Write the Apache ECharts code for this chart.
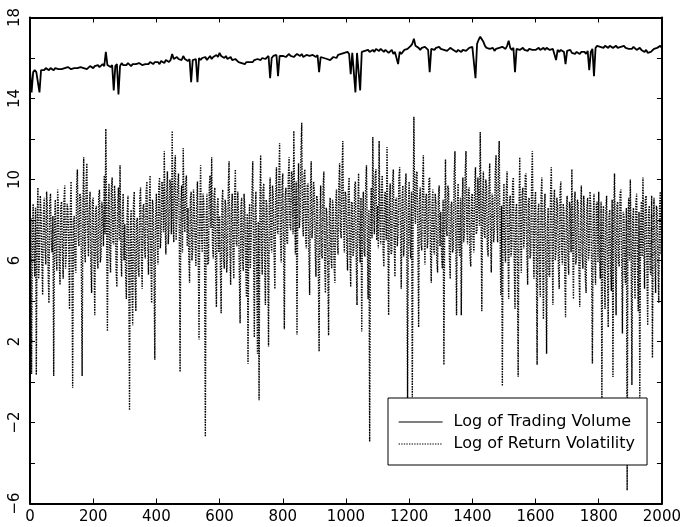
<!DOCTYPE html>
<html>
<head>
<meta charset="utf-8">
<script src="https://cdn.jsdelivr.net/npm/echarts@6/dist/echarts.min.js"></script>
<style>html,body{margin:0;padding:0;background:#fff}#c{width:684px;height:527px}</style>
</head>
<body>
<div id="c"></div>
<script>
// x step between observations of each series (observation index scale)
var volumeStep = 5;
var volatilityStep = 2.5;
var xTicks = [0, 200, 400, 600, 800, 1000, 1200, 1400, 1600, 1800, 2000];
var yLabels = [18, 14, 10, 6, 2, -2, -6];
var seriesNames = ['Log of Trading Volume', 'Log of Return Volatility'];

var volumeLog = [
15.4,14.3,15.3,15.4,15.3,15.35,14.3,15.4,15.45,15.4,15.5,15.45,15.4,15.5,15.45,15.4,15.5,15.55,15.45,15.5,
15.45,15.4,15.5,15.45,15.55,15.5,15.45,15.4,15.5,15.55,15.5,15.45,15.55,15.6,15.5,15.55,15.45,15.5,15.6,15.55,
15.5,15.6,15.55,15.65,15.55,15.6,15.7,15.6,16.3,15.65,15.6,15.55,15.65,14.4,15.6,15.7,14.2,15.6,15.75,15.65,
15.7,15.65,15.75,15.7,15.6,15.7,15.75,15.7,15.65,15.75,15.7,15.65,15.6,15.7,15.75,15.7,15.8,15.75,15.7,15.8,
15.75,15.8,15.7,15.85,15.8,15.75,15.9,15.85,15.8,15.9,16.2,15.95,15.9,16.05,15.95,16.0,15.9,16.1,15.95,15.9,
15.85,15.95,14.8,15.9,15.85,15.95,14.8,16.0,15.9,16.0,15.95,16.05,15.9,16.0,16.1,15.95,16.05,16.0,16.15,16.05,
16.25,16.1,16.05,16.0,16.1,15.95,16.0,16.05,15.9,15.85,15.95,15.9,15.8,15.85,15.75,15.8,15.7,15.8,15.75,15.8,
15.85,15.8,15.9,15.85,15.95,16.0,15.9,16.0,16.05,15.95,16.0,16.1,15.0,16.0,16.1,16.05,16.15,15.1,16.1,16.05,
16.1,16.15,16.05,16.1,16.2,16.1,16.15,16.05,16.1,16.2,16.15,16.1,16.2,16.05,16.1,16.15,16.2,16.1,16.05,16.15,
16.1,16.05,16.15,15.3,16.05,16.1,16.0,16.05,15.95,16.0,15.9,15.95,16.05,16.1,16.0,16.15,16.1,16.2,16.15,16.25,
16.2,16.3,16.2,15.2,16.25,16.3,14.3,16.25,16.3,14.4,16.3,16.25,16.35,16.3,16.4,16.3,16.35,16.4,16.3,16.45,
16.4,16.35,16.45,16.4,16.3,16.4,16.35,16.25,16.3,16.4,16.2,16.3,16.35,15.7,16.3,16.2,16.3,16.4,16.35,16.45,
16.5,16.6,16.7,16.95,16.6,16.55,16.5,16.4,16.5,16.45,16.55,16.5,16.4,15.3,16.45,16.5,16.4,16.5,16.45,16.55,
16.45,16.5,16.4,16.45,16.35,16.4,16.5,16.45,16.4,16.35,16.3,16.4,16.35,16.3,16.4,16.45,16.35,16.4,16.5,16.45,
16.55,16.6,15.0,16.7,16.9,17.05,17.1,16.8,16.6,16.5,16.55,16.45,16.4,16.5,16.35,16.45,16.4,16.5,16.45,16.55,
16.5,16.45,16.6,16.85,16.5,16.4,16.5,15.3,16.45,16.5,16.4,16.45,16.5,16.4,16.45,16.35,16.45,16.5,16.4,16.45,
16.4,16.45,16.5,16.4,16.45,16.5,16.4,16.5,16.45,16.4,16.35,16.45,16.4,15.9,16.4,16.3,16.4,16.35,16.3,15.7,
16.35,16.3,16.4,16.25,16.3,16.2,16.3,16.25,16.2,16.3,16.25,16.3,16.2,16.35,15.4,16.3,16.45,15.1,16.5,16.6,
16.65,16.55,16.6,16.5,16.6,16.55,16.5,16.6,16.55,16.5,16.55,16.6,16.5,16.45,16.55,16.5,16.6,16.5,16.55,16.45,
16.5,16.45,16.55,16.5,16.4,16.45,16.5,16.4,16.35,16.3,16.4,16.25,16.2,16.3,16.35,16.45,16.4,16.5,16.55,16.6,
16.5
];

var volatilityLog = [
6.5,8.1,0.4,7.2,8.8,6.3,5.2,8.6,0.35,7.7,9.6,5.1,6.1,9.2,8.4,5.9,4.3,8.3,9.1,6.6,5.8,9.4,8.7,5.3,3.9,8.9,9.3,6.8,6.4,8.2,0.3,7.5,9.0,6.2,5.5,9.5,8.6,6.0,4.8,8.7,
8.9,6.4,5.1,9.0,9.7,5.6,6.3,8.8,8.5,6.9,3.6,8.4,9.9,6.5,-0.3,7.9,8.2,5.8,5.4,9.6,10.5,7.1,6.7,9.3,9.2,6.0,0.3,8.7,11.1,6.6,5.9,9.8,10.8,7.4,6.2,8.5,9.4,5.7,4.4,8.9,
9.1,6.2,3.3,8.5,8.7,6.1,5.6,9.2,9.5,5.9,6.2,8.9,8.3,6.7,10.2,7.3,12.5,7.8,2.5,8.6,9.8,6.4,5.4,9.5,10.1,6.9,6.8,9.7,8.9,5.5,4.7,8.8,9.6,7.0,10.7,6.3,5.2,8.4,9.3,6.0,
7.8,5.4,4.1,8.3,9.2,5.9,-1.4,7.6,8.5,4.9,2.8,8.8,9.4,5.2,3.5,8.0,8.1,5.6,5.2,9.1,9.6,6.3,4.6,8.6,8.8,6.5,6.1,9.4,9.9,6.8,5.3,8.7,10.2,6.0,3.9,9.0,8.7,5.8,1.1,8.2,
9.3,7.1,5.8,9.6,10.1,6.6,7.2,9.9,9.5,7.4,11.4,8.0,6.3,9.4,10.4,6.8,7.6,10.0,9.8,7.3,12.4,8.2,6.9,10.5,11.2,7.0,8.1,9.7,10.3,7.5,0.5,8.9,9.7,6.4,11.55,8.3,7.4,9.8,10.2,6.7,
8.6,6.2,4.9,9.0,9.4,6.0,6.5,9.5,8.8,6.9,5.7,8.7,9.9,6.3,2.1,8.4,10.7,7.2,6.4,9.3,8.9,6.1,-2.7,8.0,9.3,5.8,5.9,9.7,10.2,7.6,11.1,6.8,6.1,9.2,9.6,5.5,3.7,8.6,9.1,6.4,
8.2,5.7,3.4,8.9,9.5,6.1,5.6,9.0,8.7,5.4,6.2,9.6,10.9,6.6,4.8,8.5,9.3,6.4,5.1,9.2,10.5,6.9,6.7,9.4,8.4,5.3,2.9,8.7,9.1,6.0,5.5,9.3,8.6,5.9,4.2,8.3,0.9,7.6,8.8,5.6,
7.1,9.3,10.9,6.5,2.2,8.4,9.4,5.6,1.4,7.9,-0.9,8.6,11.2,6.8,5.3,9.5,9.8,6.1,3.8,9.0,8.7,5.9,1.75,8.8,10.1,7.0,6.4,9.7,9.2,6.3,4.6,9.1,10.6,7.5,7.3,10.0,11.8,7.2,5.9,9.6,
10.3,6.7,2.6,9.1,9.6,7.0,6.8,10.1,11.1,7.8,7.5,10.4,10.2,7.3,12.4,8.5,6.3,9.9,2.35,8.7,10.8,7.6,8.1,11.3,12.8,7.9,7.2,10.2,10.5,6.9,6.6,9.7,9.8,6.5,4.3,9.4,10.9,7.1,7.7,9.9,
9.4,6.6,5.2,9.2,8.9,5.8,1.5,8.1,9.7,6.3,6.1,9.5,10.4,6.0,4.4,8.6,8.3,5.5,2.3,8.4,9.1,6.2,5.6,9.0,8.6,5.7,4.9,8.8,9.5,6.9,6.3,9.8,10.8,7.4,7.1,10.3,11.9,7.6,6.4,9.4,
9.2,6.8,5.5,9.4,10.1,6.5,4.7,8.9,8.8,6.2,6.6,9.7,9.9,6.1,3.8,8.7,10.3,7.0,5.9,9.1,2.5,8.3,9.4,6.4,6.2,9.8,10.7,7.2,4.1,8.5,-2.95,7.8,9.6,7.1,12.1,8.4,7.3,10.2,10.5,7.0,
8.7,6.6,11.9,7.9,6.8,9.6,10.2,6.5,5.7,9.3,9.4,7.0,11.6,7.7,3.3,8.8,9.8,6.3,6.4,9.9,10.5,7.1,5.2,9.0,9.1,6.7,7.3,10.1,10.6,7.5,4.6,8.9,9.7,6.2,6.9,9.5,10.3,7.3,-0.8,8.6,
9.9,6.9,6.1,9.4,-0.75,8.2,13.1,8.6,7.8,10.3,10.4,7.2,2.7,8.9,9.6,6.8,6.5,9.8,11.2,7.4,5.8,9.2,9.3,6.6,7.1,10.0,10.1,6.4,4.9,8.7,9.5,6.5,6.3,9.3,8.8,6.0,5.4,9.1,9.7,6.7,
8.4,6.3,5.6,9.0,0.85,8.1,11.0,7.5,7.2,9.7,9.5,6.1,5.1,8.8,8.9,6.4,6.6,10.2,11.4,7.3,3.3,8.6,9.8,6.7,6.2,9.1,3.3,8.5,10.1,6.9,7.4,10.4,11.4,7.6,6.8,9.5,9.6,6.2,5.7,9.2,
9.3,7.0,6.4,9.8,10.6,7.3,7.5,10.1,8.9,7.7,12.35,8.3,3.5,9.2,10.4,7.4,7.1,10.0,9.7,6.6,6.2,9.6,10.8,7.2,5.4,9.3,9.1,6.9,7.6,10.3,11.2,7.8,6.9,10.5,11.9,7.5,4.3,8.7,-0.2,8.4,
9.8,6.5,5.9,9.4,10.4,6.8,4.1,8.9,9.2,6.2,6.7,9.9,10.1,6.0,3.6,8.5,8.8,5.7,0.26,8.2,11.1,7.3,5.4,9.3,9.6,6.6,7.2,10.2,10.3,6.4,4.8,9.0,9.1,6.1,6.3,9.7,11.4,7.1,5.1,8.8,
9.4,6.3,0.85,8.3,8.8,5.5,4.2,9.2,10.1,6.1,3.1,8.6,9.3,5.9,1.4,7.8,8.6,5.3,5.2,9.4,10.6,6.7,3.8,8.9,9.5,6.0,6.4,9.1,8.7,5.6,4.6,9.3,9.9,6.5,5.8,8.8,8.4,5.4,3.2,8.5,
9.2,6.2,5.3,8.9,8.5,6.4,10.5,6.9,4.1,8.7,9.4,5.8,6.2,9.0,8.8,5.5,3.7,8.4,9.7,6.3,5.6,9.2,8.3,5.2,4.4,8.6,9.1,6.0,6.5,9.4,8.6,5.7,0.9,8.0,9.3,6.1,4.8,8.8,8.9,5.9,
9.4,6.1,5.1,8.9,-0.8,7.7,8.7,5.4,3.6,8.5,9.2,5.8,2.7,8.2,8.5,5.6,4.5,9.0,0.25,8.3,10.3,6.6,3.3,8.7,8.9,5.9,5.7,9.3,9.5,6.2,2.4,8.4,8.2,5.3,4.8,8.6,-5.35,7.9,9.1,6.0,
10.0,6.7,-0.15,8.1,8.6,5.5,4.1,8.8,9.3,5.9,3.5,8.4,-0.8,7.6,8.9,6.2,10.1,6.8,4.6,9.0,9.2,5.7,2.8,8.3,8.7,5.6,5.3,9.2,1.2,7.9,9.1,6.1,4.4,8.7,8.5,5.8,3.9,8.6,9.4,6.3,
7.5
];

function toPairs(arr, step) {
  return arr.map(function (v, i) { return [i * step, v]; });
}

var chart = echarts.init(document.getElementById('c'), null, {renderer: 'canvas'});
var FONT = 'DejaVu Sans';
var axisLineStyle = {color: '#000', width: 2};
var tickStyle = {show: true, inside: true, length: 5, lineStyle: {color: '#000', width: 1}};
var option = {
  backgroundColor: '#fff',
  animation: false,
  grid: {left: 30, right: 21, top: 17.5, bottom: 23.5, containLabel: false},
  xAxis: [{
    type: 'value', min: xTicks[0], max: xTicks[xTicks.length - 1], interval: 200,
    position: 'bottom',
    axisLine: {show: true, onZero: false, lineStyle: axisLineStyle},
    axisTick: tickStyle,
    axisLabel: {color: '#000', fontFamily: FONT, fontSize: 15, margin: 6,
      formatter: function (v) { return String(v); }},
    splitLine: {show: false}
  }, {
    type: 'value', min: xTicks[0], max: xTicks[xTicks.length - 1], interval: 200,
    position: 'top',
    axisLine: {show: true, onZero: false, lineStyle: axisLineStyle},
    axisTick: tickStyle,
    axisLabel: {show: false},
    splitLine: {show: false}
  }],
  yAxis: [{
    type: 'value', min: -6, max: 18, interval: 2,
    position: 'left',
    axisLine: {show: true, onZero: false, lineStyle: axisLineStyle},
    axisTick: tickStyle,
    axisLabel: {
      color: '#000', fontFamily: FONT, fontSize: 15, rotate: 90, margin: 7,
      formatter: function (v) {
        return yLabels.indexOf(v) >= 0 ? (v < 0 ? '\u2212' + Math.abs(v) : String(v)) : '';
      }
    },
    splitLine: {show: false}
  }, {
    type: 'value', min: -6, max: 18, interval: 2,
    position: 'right',
    axisLine: {show: true, onZero: false, lineStyle: axisLineStyle},
    axisTick: tickStyle,
    axisLabel: {show: false},
    splitLine: {show: false}
  }],
  legend: {
    show: true,
    orient: 'vertical',
    left: 388, top: 398,
    data: seriesNames,
    itemWidth: 44, itemHeight: 14, itemGap: 6,
    padding: [16, 12, 13, 10],
    borderColor: '#000', borderWidth: 1,
    backgroundColor: '#fff',
    lineStyle: {width: 1.2},
    itemStyle: {color: 'rgba(0,0,0,0)', borderColor: 'rgba(0,0,0,0)', borderWidth: 0},
    textStyle: {color: '#000', fontFamily: FONT, fontSize: 16, padding: [0, 0, 0, 6]}
  },
  series: [{
    name: seriesNames[0],
    type: 'line',
    data: toPairs(volumeLog, volumeStep),
    showSymbol: false, symbol: 'none',
    lineStyle: {color: '#000', width: 1.8, type: 'solid'},
    itemStyle: {color: '#000'},
    z: 5
  }, {
    name: seriesNames[1],
    type: 'line',
    data: toPairs(volatilityLog, volatilityStep),
    showSymbol: false, symbol: 'none',
    lineStyle: {color: '#000', width: 1.4, type: [1.4, 1.2]},
    itemStyle: {color: '#000'},
    z: 3
  }]
};
chart.setOption(option);
</script>
</body>
</html>
